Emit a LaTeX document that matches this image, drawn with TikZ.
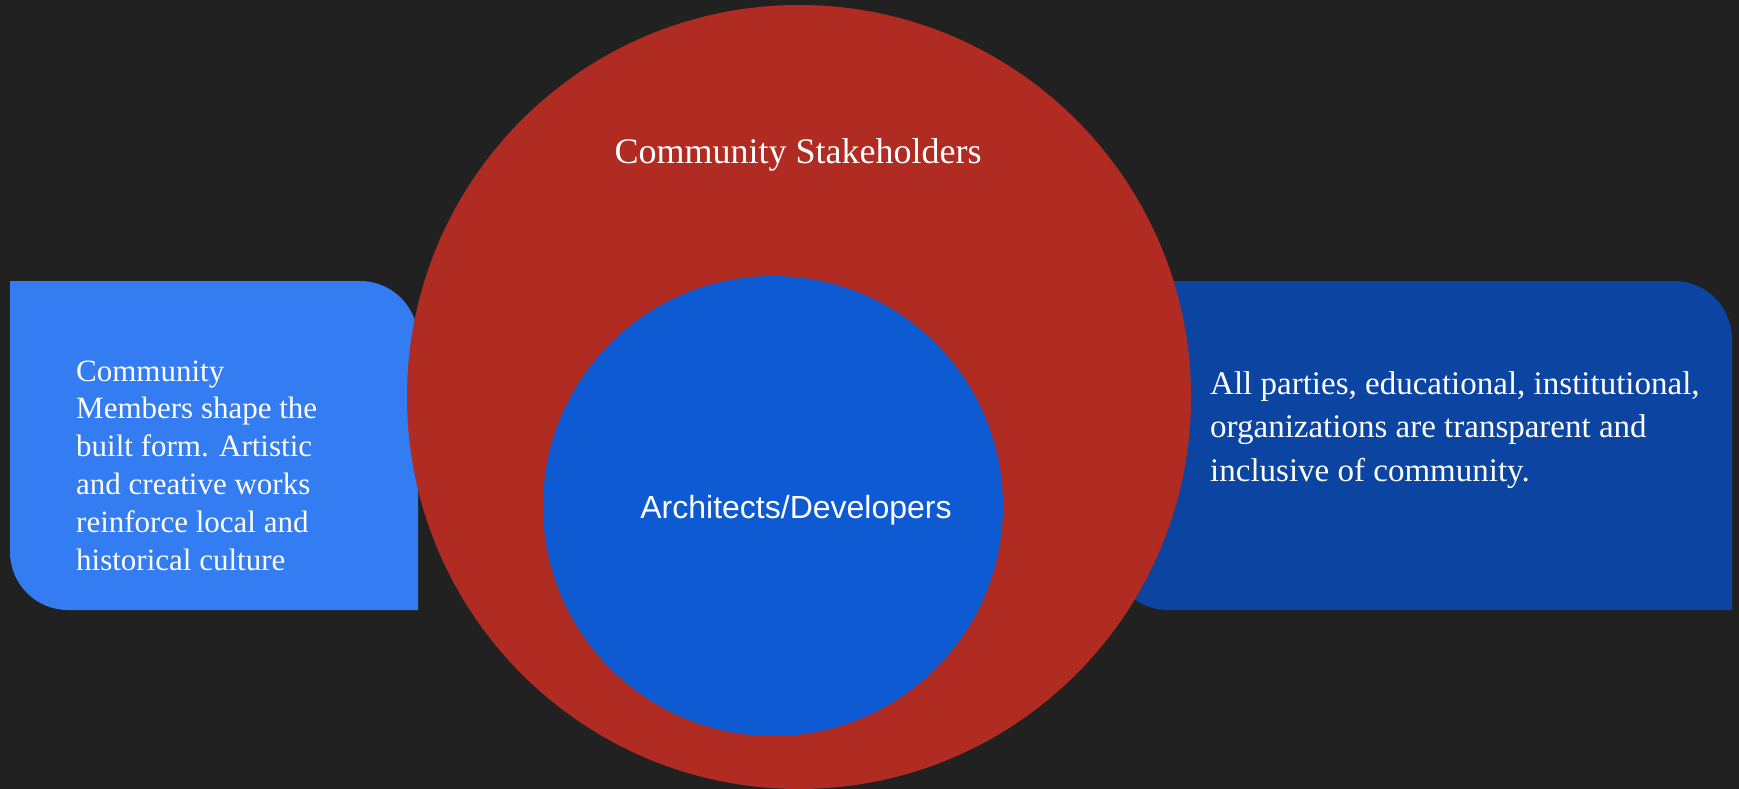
\documentclass[tikz,border=0pt]{standalone}
\usepackage{fontspec}
\setmainfont{Liberation Serif}
\newfontfamily\labelsans{Liberation Sans}

\definecolor{backdrop}{HTML}{212121}
\definecolor{memberblue}{HTML}{337CF2}
\definecolor{partyblue}{HTML}{0B45A1}
\definecolor{stakered}{HTML}{B02B22}
\definecolor{archblue}{HTML}{0D5AD3}

\tikzset{
	ring/.style={circle, draw=none, inner sep=0pt},
	bodytext/.style={anchor=base west, inner sep=0pt, text=white},
}

\begin{document}
\begin{tikzpicture}[x=1pt, y=-1pt]

	% Background
	\fill[backdrop] (0,0) rectangle (1739,789);
	\clip (0,0) rectangle (1739,789);

	% Side panels
	\fill[memberblue] (10,281) [rounded corners=58pt] -- (418,281) [sharp corners] -- (418,610) [rounded corners=58pt] -- (10,610) [sharp corners] -- cycle;
	\fill[partyblue] (1110,281) [rounded corners=58pt] -- (1732,281) [sharp corners] -- (1732,610) [rounded corners=58pt] -- (1110,610) [sharp corners] -- cycle;

	% Circles
	\node[ring, fill=stakered, minimum size=784pt] (outer) at (799,397) {};
	\node[ring, fill=archblue, minimum size=460pt] (inner) at (773,506) {};

	% Circle labels
	\node[bodytext, anchor=base, font=\fontsize{36}{43}\selectfont] (stakeholders) at (798,163) {Community Stakeholders};
	\node[bodytext, anchor=base, font=\labelsans\fontsize{32}{38}\selectfont] (architects) at (796,518) {Architects/Developers};

	% Panel texts
	\node[bodytext] (members) at (76,381) {\parbox[t]{330pt}{\fontsize{31}{37.8}\selectfont\raggedright
		Community\\ Members shape the\\ built form. Artistic\\ and creative works\\ reinforce local and\\ historical culture}};
	\node[bodytext] (parties) at (1210,394) {\parbox[t]{510pt}{\fontsize{33}{43.5}\selectfont\raggedright
		All parties, educational, institutional,\\ organizations are transparent and\\ inclusive of community.}};

\end{tikzpicture}
\end{document}
